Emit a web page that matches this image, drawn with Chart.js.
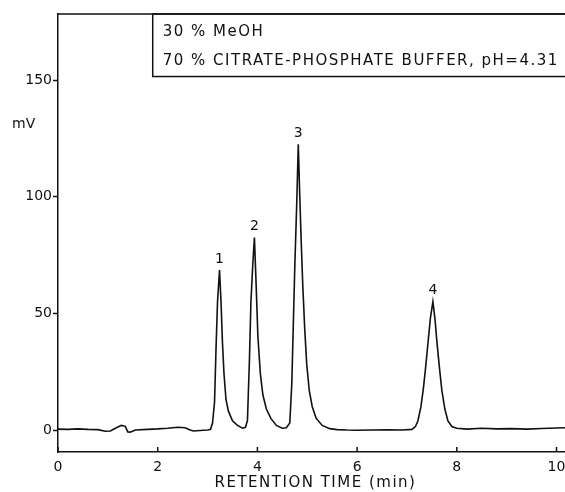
<!DOCTYPE html>
<html>
<head>
<meta charset="utf-8">
<script src="https://cdn.jsdelivr.net/npm/chart.js@4.4.1/dist/chart.umd.min.js"></script>
<style>
  html, body { margin: 0; padding: 0; background: #fff; }
  #wrap { width: 565px; height: 492px; }
</style>
</head>
<body>
<div id="wrap"><canvas id="chrom"></canvas></div>
<script>
// retention time (min) and detector signal (mV)
const times = [
  0.0, 0.2, 0.4, 0.6, 0.8, 0.95, 1.05, 1.15, 1.27, 1.35, 1.4, 1.45, 1.55, 1.8, 2.0, 2.2, 2.4, 2.55, 2.65, 2.72, 2.85, 3.0, 3.06,
  3.1, 3.14, 3.17, 3.2, 3.24, 3.27, 3.3, 3.33, 3.37, 3.42, 3.5, 3.6, 3.7, 3.76,
  3.8, 3.84, 3.87, 3.91, 3.94, 3.97, 4.01, 4.06, 4.11, 4.18, 4.27, 4.38, 4.5, 4.58,
  4.65, 4.69, 4.72, 4.75, 4.79, 4.82, 4.85, 4.88, 4.91, 4.95, 4.99, 5.04, 5.1, 5.18, 5.3, 5.45, 5.6, 5.8, 6.0, 6.3, 6.6, 6.9, 7.1,
  7.17, 7.22, 7.28, 7.33, 7.37, 7.42, 7.47, 7.52, 7.56, 7.6, 7.65, 7.7, 7.76, 7.82, 7.9, 8.0, 8.2, 8.5, 8.8, 9.1, 9.4, 9.7, 10.0, 10.2
];
const signal = [
  0.4, 0.3, 0.5, 0.3, 0.2, -0.5, -0.4, 0.8, 2.0, 1.6, -0.8, -0.9, 0.0, 0.3, 0.5, 0.8, 1.2, 1.0, 0.0, -0.4, -0.2, 0.0, 0.3,
  3, 12, 35, 55, 68.6, 55, 37, 24, 13, 8, 4, 2, 0.8, 1.2,
  4, 30, 55, 72, 82.5, 65, 40, 24, 15, 9, 5, 2, 0.8, 1.0,
  3, 20, 45, 70, 98, 122.5, 100, 80, 62, 43, 28, 17, 10, 5, 2, 0.6, 0.2, 0.0, -0.1, 0.0, 0.1, 0.0, 0.3,
  1.5, 4, 10, 18, 26, 37, 48, 55, 48, 38, 27, 17, 9, 4, 1.5, 0.8, 0.4, 0.8, 0.5, 0.6, 0.4, 0.7, 0.9, 1.0
];

const peakNames = ["1", "2", "3", "4"];
const peakTimes = [3.24, 3.94, 4.82, 7.52];
const peakHeights = [68.6, 82.5, 122.5, 55];

const xTicks = [0, 2, 4, 6, 8, 10];
const yTicks = [0, 50, 100, 150];

const boxLines = ["30 % MeOH", "70 % CITRATE-PHOSPHATE BUFFER, pH=4.31"];
const yUnit = "mV";
const xTitle = "RETENTION TIME (min)";

const ink = "#111";
const font = "DejaVu Sans";

// peak numbers, inward x ticks, top frame, condition box, axis titles
const annotations = {
  id: "annotations",
  afterDraw(chart) {
    const { ctx, chartArea, scales } = chart;
    const x = scales.x, y = scales.y;
    ctx.save();
    ctx.strokeStyle = ink;
    ctx.fillStyle = ink;
    ctx.lineWidth = 1.5;

    ctx.beginPath();
    ctx.moveTo(chartArea.left, chartArea.top);
    ctx.lineTo(chartArea.right, chartArea.top);
    xTicks.forEach(v => {
      const px = x.getPixelForValue(v);
      ctx.moveTo(px, chartArea.bottom);
      ctx.lineTo(px, chartArea.bottom - 5);
    });
    ctx.stroke();

    ctx.font = "14px '" + font + "'";
    ctx.textAlign = "center";
    ctx.textBaseline = "bottom";
    peakNames.forEach((n, i) => {
      ctx.fillText(n, x.getPixelForValue(peakTimes[i]), y.getPixelForValue(peakHeights[i]) - 4);
    });

    ctx.textAlign = "left";
    ctx.textBaseline = "middle";
    ctx.fillText(yUnit, 12, y.getPixelForValue(131));

    ctx.font = "15px '" + font + "'";
    ctx.letterSpacing = "1.5px";
    ctx.textAlign = "center";
    ctx.fillText(xTitle, (chartArea.left + chartArea.right) / 2 + 4, 483);

    // condition box in the top right corner
    const bx = x.getPixelForValue(1.9);
    const by = y.getPixelForValue(151.5);
    ctx.strokeRect(bx, chartArea.top, chart.width - bx + 5, by - chartArea.top);
    ctx.textAlign = "left";
    ctx.fillText(boxLines[0], bx + 10, chartArea.top + 18);
    ctx.fillText(boxLines[1], bx + 10, chartArea.top + 47);
    ctx.restore();
  }
};

new Chart(document.getElementById("chrom"), {
  type: "line",
  data: {
    datasets: [{
      data: times.map((t, i) => ({ x: t, y: signal[i] })),
      borderColor: ink,
      borderWidth: 1.6,
      pointRadius: 0,
      tension: 0,
      fill: false
    }]
  },
  options: {
    responsive: true,
    maintainAspectRatio: false,
    animation: false,
    layout: { padding: { top: 14, left: 0, right: 0, bottom: 0 } },
    plugins: { legend: { display: false }, tooltip: { enabled: false } },
    scales: {
      x: {
        type: "linear",
        min: 0,
        max: 10.17,
        afterBuildTicks: s => { s.ticks = xTicks.map(v => ({ value: v })); },
        afterFit: s => { s.height = 40; s.paddingRight = 0; s.paddingLeft = 0; },
        grid: { display: false, drawTicks: false },
        border: { display: true, color: ink, width: 1.5 },
        ticks: { color: ink, font: { family: font, size: 14 }, padding: 7, maxRotation: 0 }
      },
      y: {
        min: -9.4,
        max: 178.3,
        afterBuildTicks: s => { s.ticks = yTicks.map(v => ({ value: v })); },
        afterFit: s => { s.width = 58; },
        grid: { drawOnChartArea: false, drawTicks: true, tickLength: 5, color: ink, tickWidth: 1.5 },
        border: { display: true, color: ink, width: 1.5 },
        ticks: { color: ink, font: { family: font, size: 14 }, padding: 1 }
      }
    }
  },
  plugins: [annotations]
});
</script>
</body>
</html>
